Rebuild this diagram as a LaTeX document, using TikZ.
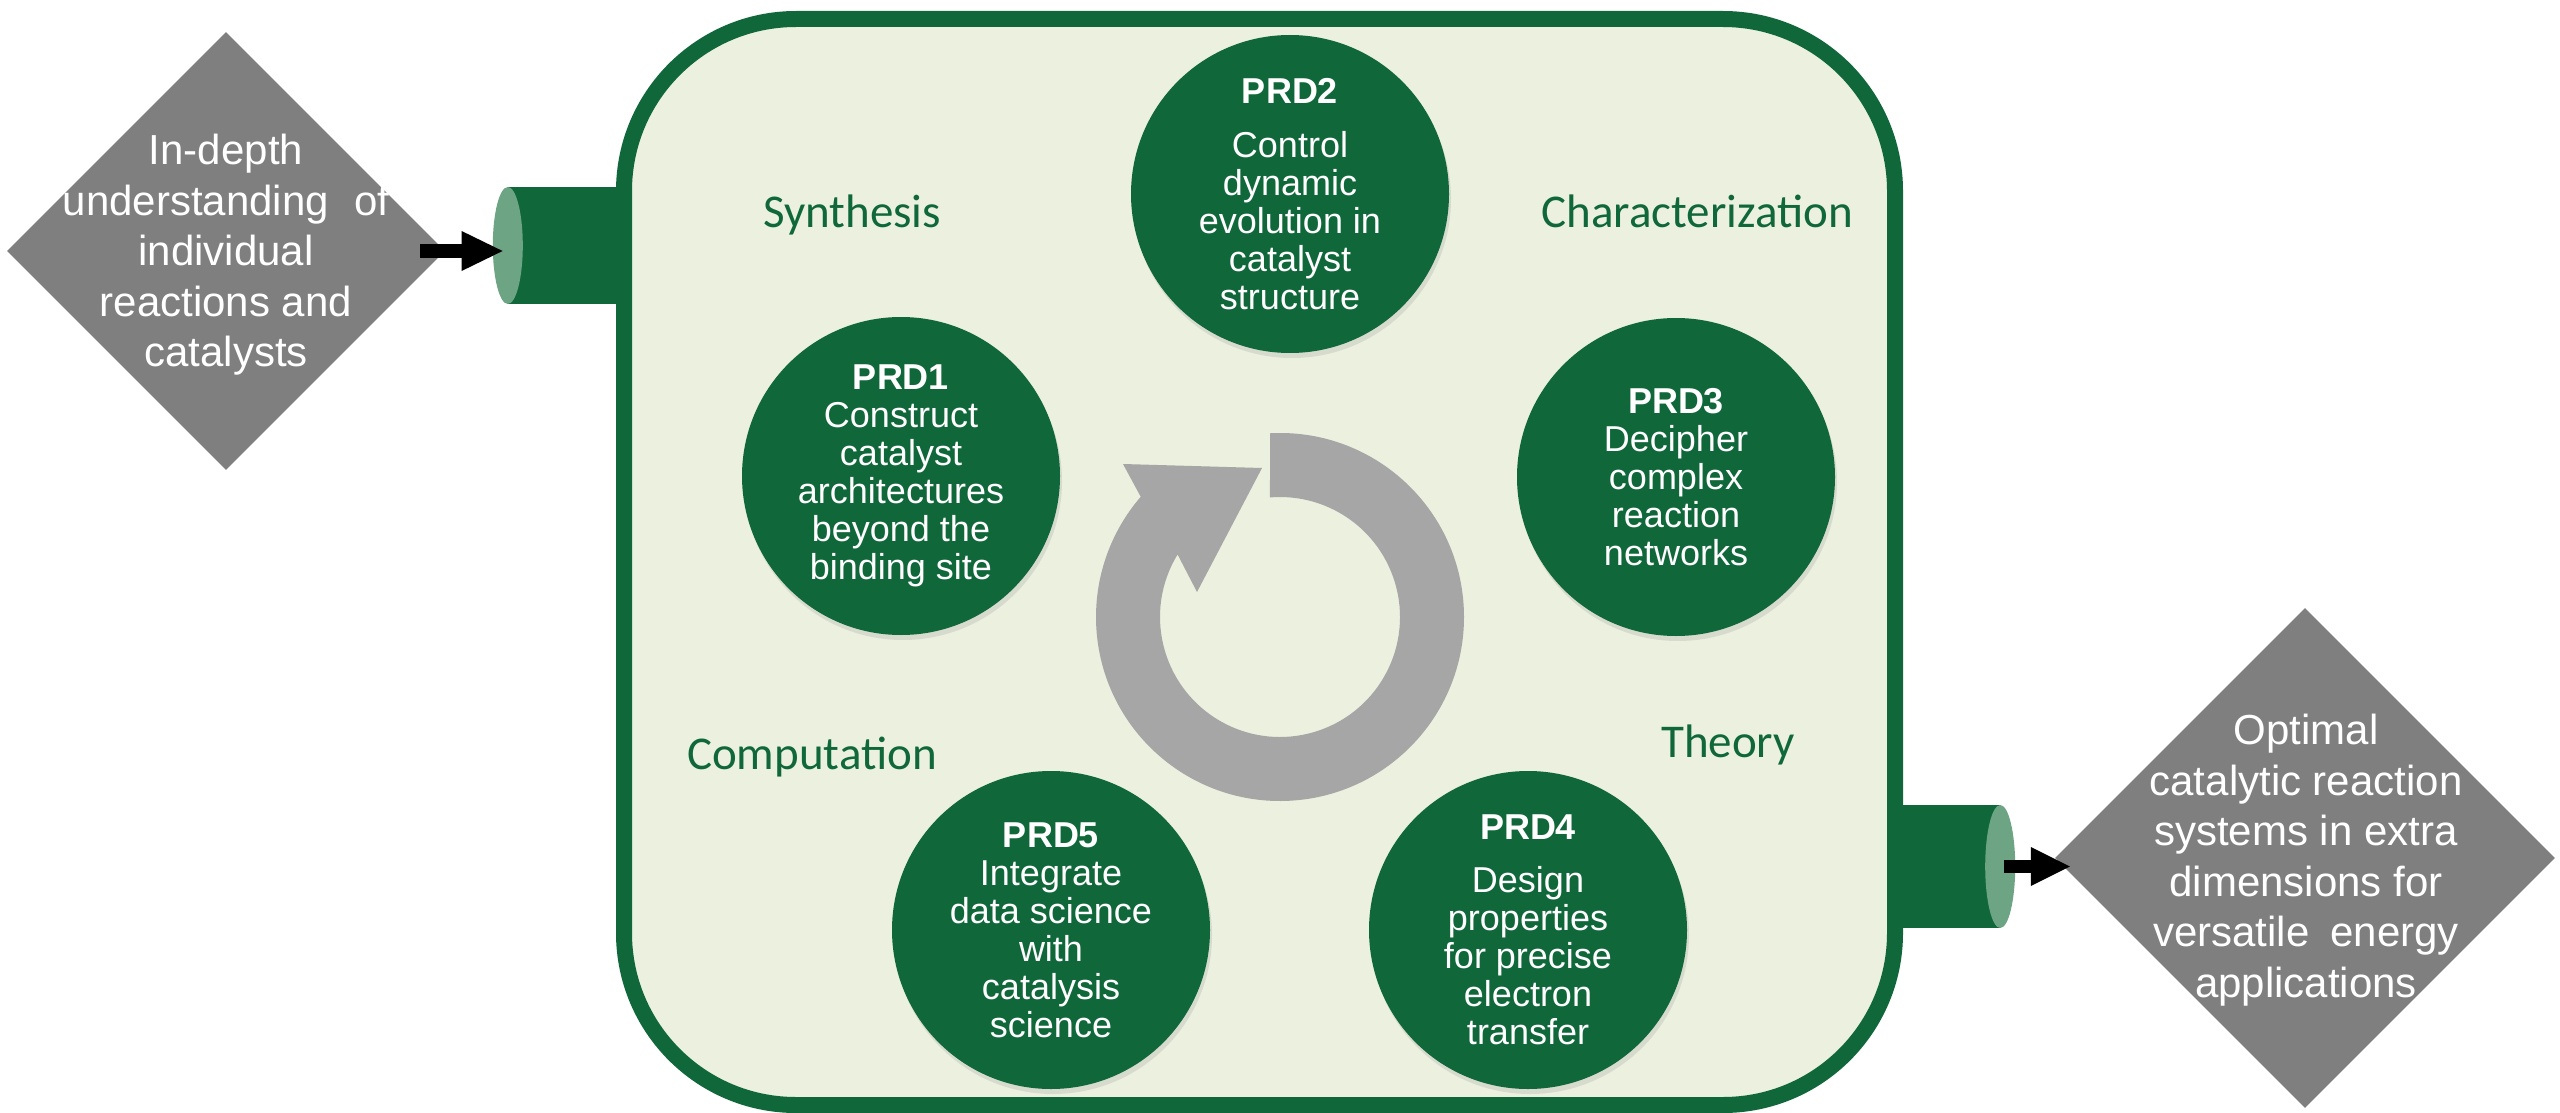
\documentclass[tikz,border=0pt]{standalone}
\usepackage{fontspec}
\setmainfont{Liberation Sans}
\newfontfamily\lblfont{Carlito}
\usetikzlibrary{shapes.geometric,arrows.meta,shadows}
\definecolor{dkgreen}{HTML}{10683A}
\definecolor{paleg}{HTML}{EBF0DF}
\definecolor{capg}{HTML}{6DA584}
\definecolor{dgray}{HTML}{7F7F7F}
\definecolor{rgray}{HTML}{A6A6A6}
\begin{document}
\begin{tikzpicture}[x=1pt,y=1pt,
  prd/.style={circle, fill=dkgreen, text=white, minimum size=318pt, inner sep=0pt,
    align=center, font=\fontsize{36}{38}\selectfont,
    drop shadow={shadow xshift=2pt, shadow yshift=-5pt, opacity=0.18}},
  gdiamond/.style={diamond, aspect=1, fill=dgray, inner sep=0pt},
  dtext/.style={text=white, align=center, font=\fontsize{42}{50.5}\selectfont, inner sep=0pt},
  lbl/.style={text=dkgreen, font=\lblfont\fontsize{47}{56}\selectfont, anchor=base, inner sep=0pt},
  pipebody/.style={rectangle, fill=dkgreen, inner sep=0pt},
  pipecap/.style={ellipse, fill=capg, minimum width=30pt, inner sep=0pt},
  blkL/.style={draw=black, line width=14pt, -{Triangle[length=41pt,width=40pt,line width=0pt]}},
  blkR/.style={draw=black, line width=13pt, -{Triangle[length=39pt,width=39pt,line width=0pt]}}
]
\useasboundingbox (0,0) rectangle (2560,-1113);

% pipes
\node[pipebody, minimum width=116pt, minimum height=117pt] (pipeL) at (566,-245.5) {};
\node[pipecap, minimum height=117pt] (capL) at (pipeL.west) {};
\node[pipebody, minimum width=105pt, minimum height=123pt] (pipeR) at (1947.5,-866.5) {};
\node[pipecap, minimum height=123pt] (capR) at (pipeR.east) {};

% main frame
\node[draw=dkgreen, fill=paleg, line width=16pt, rounded corners=172pt,
      minimum width=1271pt, minimum height=1086pt, inner sep=0pt] (frame) at (1259.5,-562) {};

% labels
\node[lbl] (syn) at (852,-227) {Synthesis};
\node[lbl] (cha) at (1697,-227) {Characterization};
\node[lbl] (com) at (812,-769) {Computation};
\node[lbl] (the) at (1728,-757) {Theory};

% cycle arrow
\begin{scope}[shift={(1280,-617)}]
  \fill[rgray] (93.1:184) arc[start angle=93.1, end angle=-220.8, radius=184]
    -- (-157,153) -- (-18,149) -- (-83,25) -- (148.6:120)
    arc[start angle=-211.4, end angle=94.8, radius=120] -- cycle;
\end{scope}

% PRD circles
\node[prd] (p1) at (901,-476) {\textbf{PRD1}\\Construct\\catalyst\\architectures\\beyond the\\binding site};
\node[prd] (p2) at (1290,-194) {\textbf{PRD2}\\[16pt]Control\\dynamic\\evolution in\\catalyst\\structure};
\node[prd] (p3) at (1676,-477) {\textbf{PRD3}\\Decipher\\complex\\reaction\\networks};
\node[prd] (p4) at (1528,-930) {\textbf{PRD4}\\[15pt]Design\\properties\\for precise\\electron\\transfer};
\node[prd] (p5) at (1051,-930) {\textbf{PRD5}\\Integrate\\data science\\with\\catalysis\\science};

% diamonds
\node[gdiamond, minimum width=438pt, minimum height=438pt] (inD) at (226,-251) {};
\node[dtext] (inT) at (226,-255) {In-depth\\understanding\hspace{0.6em}of\\individual\\reactions and\\catalysts};
\node[gdiamond, minimum width=500pt, minimum height=500pt] (outD) at (2305,-858) {};
\node[dtext] (outT) at (2306,-860) {Optimal\\catalytic reaction\\systems in extra\\dimensions for\\versatile\hspace{0.5em}energy\\applications};

% arrows
\coordinate (tipL) at ([xshift=10pt]capL.west);
\draw[blkL] ([xshift=-25pt]inD.east) -- (tipL |- inD.east);
\coordinate (tipR) at ([xshift=15pt]outD.west);
\draw[blkR] ([xshift=4pt]capR.center) -- (tipR |- capR.center);
\end{tikzpicture}
\end{document}
